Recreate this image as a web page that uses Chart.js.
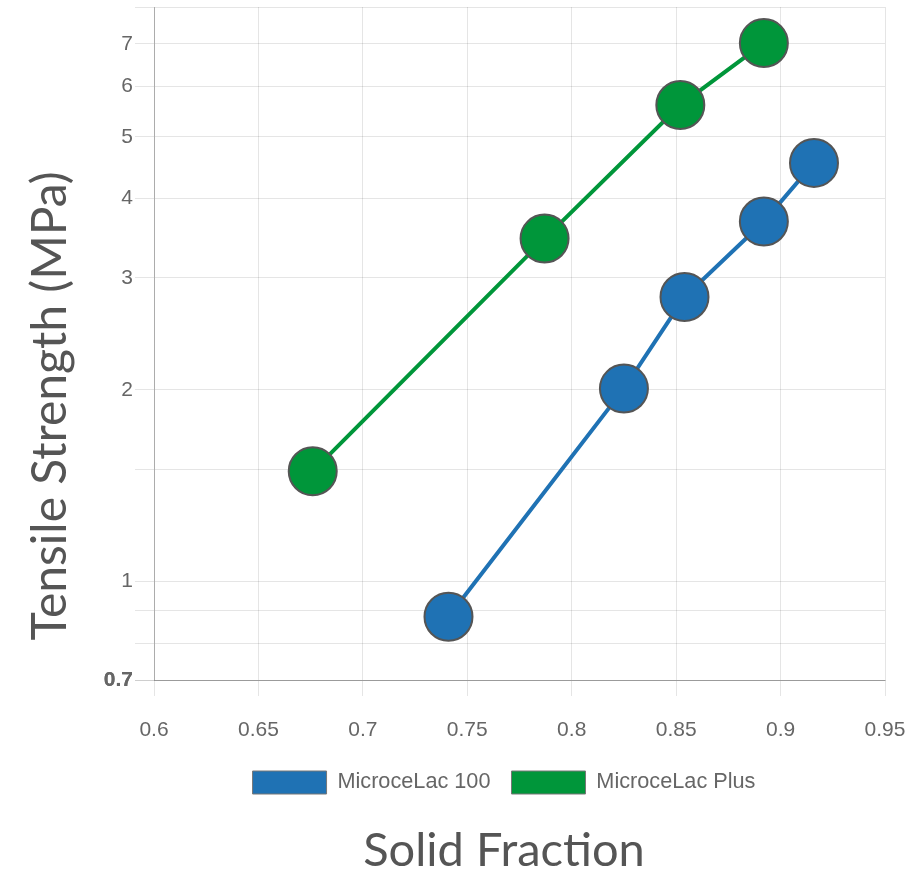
<!DOCTYPE html>
<html><head><meta charset="utf-8">
<script src="https://cdn.jsdelivr.net/npm/chart.js@4/dist/chart.umd.min.js"></script>
<style>html,body{margin:0;padding:0;background:#fff}#wrap{width:907px;height:876px}</style>
</head><body><div id="wrap"><canvas id="c" width="907" height="876"></canvas></div>
<script>
const seriesNames = ["MicroceLac 100", "MicroceLac Plus"];
const m100X = [0.741, 0.825, 0.854, 0.892, 0.916];
const m100Y = [0.88, 2.01, 2.80, 3.68, 4.55];
const plusX = [0.676, 0.787, 0.852, 0.892];
const plusY = [1.49, 3.46, 5.61, 7.02];
const yTickLabels = [0.7, 1, 2, 3, 4, 5, 6, 7];
const xTickLabels = [0.6, 0.65, 0.7, 0.75, 0.8, 0.85, 0.9, 0.95];
const xTitle = "Solid Fraction";
const yTitle = "Tensile Strength (MPa)";
const colors = ["#1f72b4", "#00963a"];

const tickFont = 'Liberation Sans, Arial, sans-serif';
const titleFont = 'Lato, sans-serif';

const axisTitles = {
  id: 'axisTitles',
  afterLayout(chart) {
    const lg = chart.legend;
    if (lg) { const shift = 504 - (lg.left + lg.right) / 2; lg.left += shift; lg.right += shift; }
  },
  afterDraw(chart) {
    const ctx = chart.ctx;
    ctx.save();
    ctx.fillStyle = '#555';
    ctx.textAlign = 'center';
    ctx.textBaseline = 'alphabetic';
    ctx.font = '47px ' + titleFont;
    ctx.fillText(xTitle, 504, 866);
    ctx.translate(66, 406);
    ctx.rotate(-Math.PI / 2);
    ctx.font = '48px ' + titleFont;
    ctx.fillText(yTitle, 0, 0);
    ctx.restore();
  }
};

const pts = (xs, ys) => xs.map((x, i) => ({x, y: ys[i]}));
const ds = (i, data) => ({label: seriesNames[i], data, borderColor: colors[i], backgroundColor: colors[i],
  borderWidth: 4, pointRadius: 24, pointHoverRadius: 24, pointBorderColor: '#555', pointBorderWidth: 2,
  pointBackgroundColor: colors[i], clip: false});

new Chart(document.getElementById('c'), {
  type: 'line',
  data: {datasets: [ds(0, pts(m100X, m100Y)), ds(1, pts(plusX, plusY))]},
  options: {
    responsive: false, animation: false,
    layout: {autoPadding: false, padding: {left: 0, right: 22, top: 7, bottom: 72}},
    plugins: {
      legend: {position: 'bottom', labels: {boxWidth: 74, boxHeight: 23, color: '#666', padding: 21,
        font: {family: tickFont, size: 21.7},
        generateLabels: (chart) => chart.data.datasets.map((d, i) => ({text: d.label, fillStyle: d.backgroundColor, strokeStyle: '#777', lineWidth: 1, datasetIndex: i, fontColor: '#666'}))}},
      tooltip: {enabled: false}
    },
    scales: {
      x: {type: 'linear', min: 0.6, max: 0.95,
        afterBuildTicks: (s) => { s.ticks = xTickLabels.map(v => ({value: v})); },
        grid: {color: 'rgba(0,0,0,0.1)', tickLength: 16},
        border: {color: 'rgba(0,0,0,0.25)'},
        ticks: {color: '#666', font: {family: tickFont, size: 21}, padding: 22, maxRotation: 0,
          callback: (v) => String(v)},
        afterFit: (s) => { s.height = 70; s.paddingLeft = 0; s.paddingRight = 0; }
      },
      y: {type: 'logarithmic', min: 0.7, max: 8,
        grid: {color: 'rgba(0,0,0,0.1)', tickLength: 19},
        border: {color: 'rgba(0,0,0,0.25)'},
        ticks: {color: '#666', padding: 2, autoSkip: false,
          font: (ctx) => ({family: tickFont, size: 21, weight: (ctx.tick && ctx.tick.value === 0.7) ? 'bold' : 'normal'}),
          callback: (v) => yTickLabels.some(t => Math.abs(t - v) < 1e-9) ? String(v) : ''},
        afterFit: (s) => { s.width = 154; s.paddingTop = 0; s.paddingBottom = 0; }
      }
    }
  },
  plugins: [axisTitles]
});
</script></body></html>
